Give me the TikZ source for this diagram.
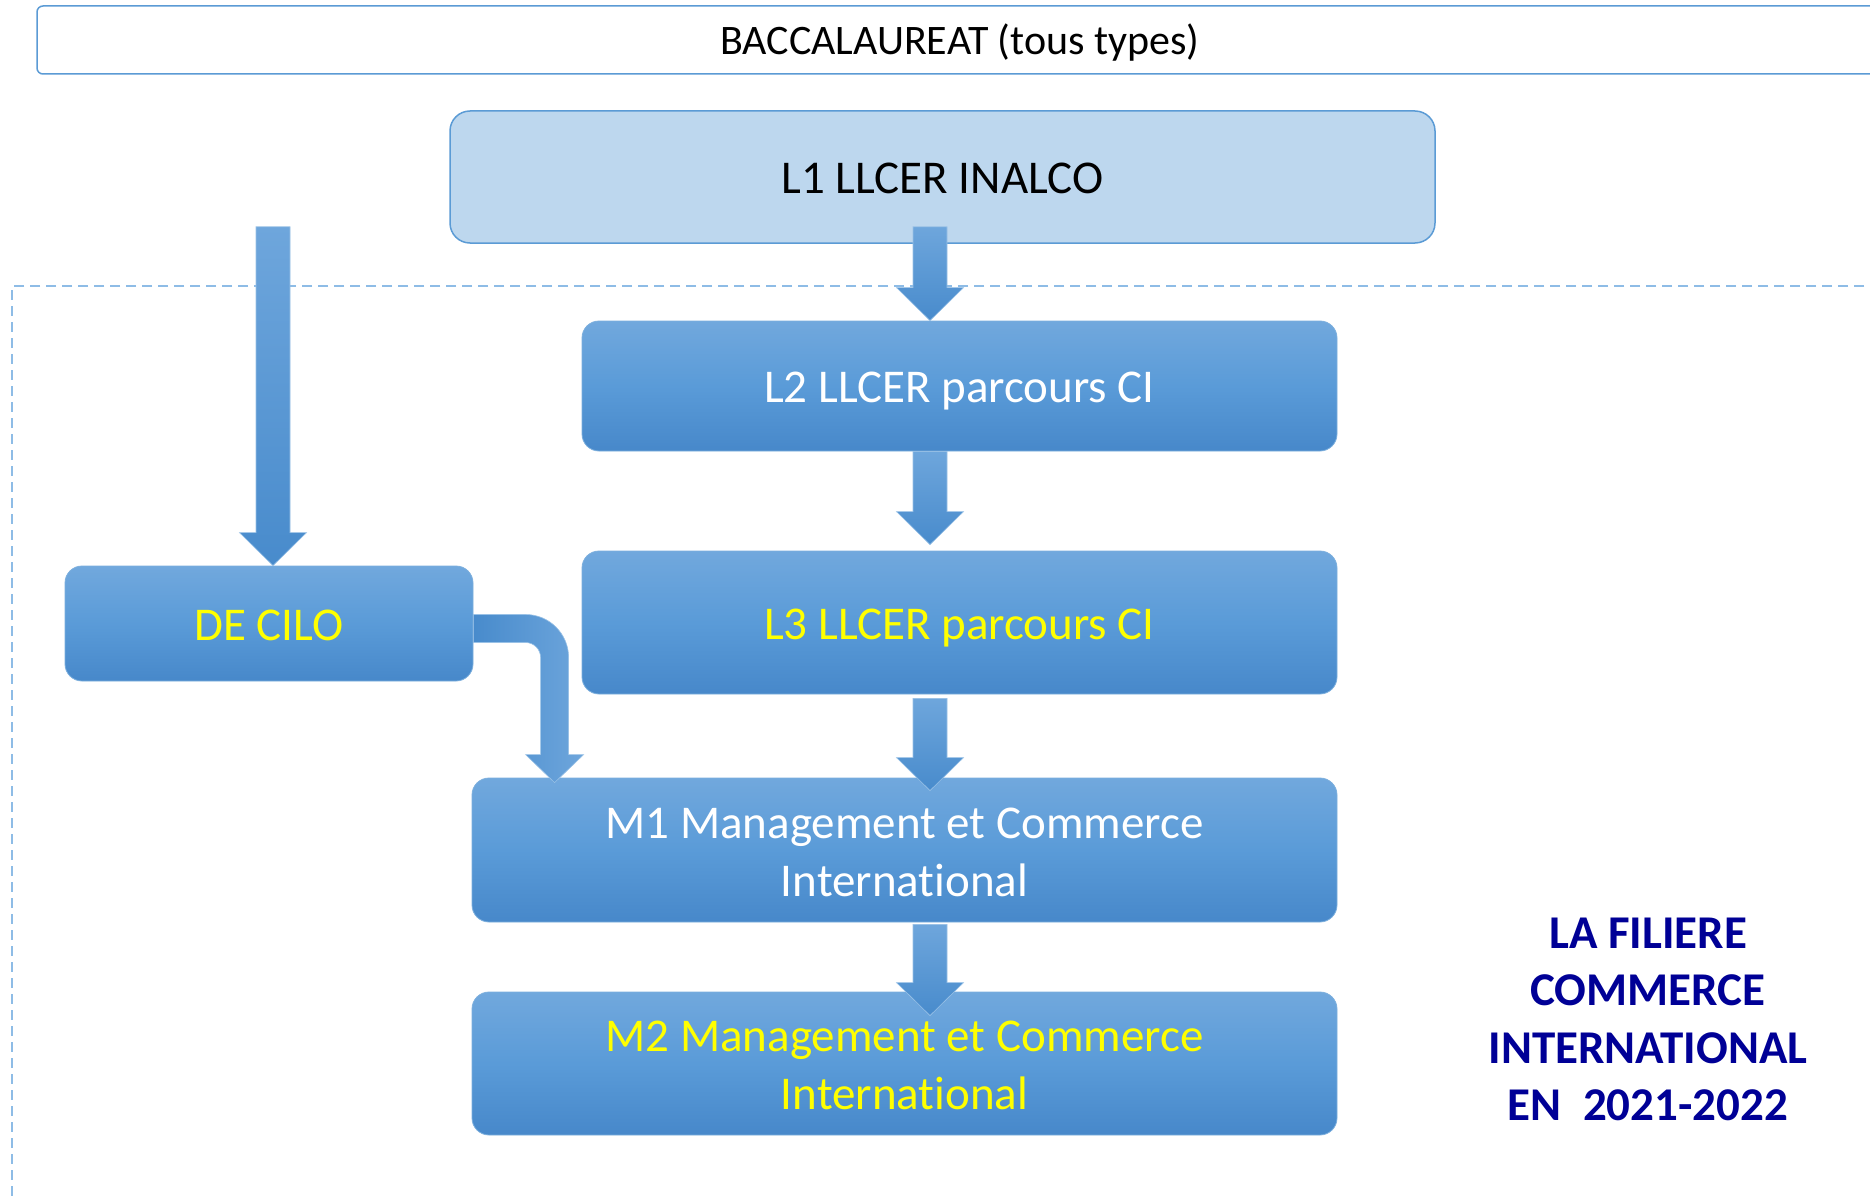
\documentclass[tikz,border=0pt]{standalone}
\usepackage{fontspec}
\setmainfont{Carlito}[Ligatures={NoCommon}]
\usetikzlibrary{calc}
\definecolor{acc}{HTML}{5B9BD5}
\definecolor{accl}{HTML}{BDD7EE}
\definecolor{boxtop}{HTML}{71A8DD}
\definecolor{boxmid}{HTML}{5A9BD8}
\definecolor{boxbot}{HTML}{4788CA}
\definecolor{arrtop}{HTML}{6EA6DC}
\definecolor{arrbot}{HTML}{488BCC}
\definecolor{dashc}{HTML}{8EBCE6}
\definecolor{navy}{HTML}{000096}
\definecolor{yel}{HTML}{FFFF00}
\tikzset{
  bluebox/.style={rounded corners=17pt, top color=boxtop, bottom color=boxbot, middle color=boxmid,
    draw=acc!80, line width=0.8pt, inner sep=0pt, align=center,
    font=\fontsize{47}{58}\selectfont},
  oneline/.style={text height=33pt, text depth=0pt},
  arrowshade/.style={top color=arrtop, bottom color=arrbot, draw=arrtop!70!white, line width=0.6pt},
  bentshade/.style={left color=arrbot, right color=arrtop, draw=arrtop!70!white, line width=0.6pt},
  dashline/.style={draw=dashc, line width=2pt, dash pattern=on 10pt off 6pt},
}
% vertical block arrow: start, tip, half shaft width, half head width, head length
\newcommand\vblock[5]{%
  \path[arrowshade] let \p1=(#1), \p2=(#2) in
   (\x1-#3,\y1) -- (\x1+#3,\y1) -- (\x1+#3,\y2+#5) -- (\x1+#4,\y2+#5) -- (\x2,\y2)
   -- (\x1-#4,\y2+#5) -- (\x1-#3,\y2+#5) -- cycle;}
\newcommand\topstrut{\rule{0pt}{45pt}}
\newcommand\botstrut{\rule[-11pt]{0pt}{11pt}}
\begin{document}
\begin{tikzpicture}[x=1pt,y=-1pt]
\useasboundingbox[fill=white] (0,0) rectangle (1870,1201);
% dashed frame
\draw[dashline] (1880,286) -- (12,286) -- (12,1215);
% top box
\node[draw=acc, line width=1.5pt, rounded corners=6pt, minimum width=1846pt, minimum height=68pt, inner sep=0pt,
  text height=30pt, text depth=0pt, font=\fontsize{42}{50}\selectfont] (bac) at (960,40) {BACCALAUREAT (tous types)};
\node[fill=accl, draw=acc, line width=1.5pt, rounded corners=20pt, minimum width=985pt, minimum height=132pt,
  inner sep=0pt, oneline, font=\fontsize{47}{57}\selectfont] (l1) at (942.5,177) {L1 LLCER INALCO};
\node[bluebox, oneline, text=white, minimum width=755pt, minimum height=130pt] (l2) at (959.5,386) {L2 LLCER parcours CI};
\node[bluebox, oneline, text=yel, minimum width=755pt, minimum height=143pt] (l3) at (959.5,622.5) {L3 LLCER parcours CI};
\node[bluebox, oneline, text=yel, minimum width=408pt, minimum height=115pt] (decilo) at (269,623.5) {DE CILO};
\node[bluebox, text=white, minimum width=865pt, minimum height=144pt] (m1) at (904.5,850) {\topstrut M1 Management et Commerce\\International\botstrut};
\node[bluebox, text=yel, minimum width=865pt, minimum height=143pt] (m2) at (904.5,1063.5) {\topstrut M2 Management et Commerce\\International\botstrut};
\node[text=navy, align=center, font=\bfseries\fontsize{47}{57.5}\selectfont] (title) at (1648,1019.5) {LA FILIERE\\COMMERCE\\INTERNATIONAL\\EN\ \ 2021-2022};
% arrows
\coordinate (col) at (930,0);
\vblock{[yshift=17pt]col |- l1.south}{col |- l2.north}{17pt}{33.5pt}{33pt}
\vblock{col |- l2.south}{[yshift=6pt]col |- l3.north}{17pt}{33.5pt}{33pt}
\vblock{[yshift=-4pt]col |- l3.south}{[yshift=-13pt]col |- m1.north}{17pt}{33.5pt}{33pt}
\vblock{[yshift=-2pt]col |- m1.south}{[yshift=-24pt]col |- m2.north}{17pt}{33.5pt}{33pt}
\vblock{[xshift=4pt,yshift=17pt]decilo.north |- l1.south}{[xshift=4pt]decilo.north}{17pt}{33.5pt}{33pt}
% bent arrow DE CILO -> M1
\path[bentshade] let \p1=([yshift=-5pt]decilo.east), \p2=([xshift=83pt,yshift=-5pt]m1.north west) in
  (\x1,\y1+14pt) -- (\x2-29pt,\y1+14pt) arc[start angle=90,end angle=0,radius=43pt]
  -- (\x2+14pt,\y2+28pt) -- (\x2+29pt,\y2+28pt) -- (\x2,\y2) -- (\x2-29pt,\y2+28pt)
  -- (\x2-14pt,\y2+28pt) -- (\x2-14pt,\y1-29pt) arc[start angle=0,end angle=90,radius=15pt]
  -- (\x1,\y1-14pt) -- cycle;
\end{tikzpicture}
\end{document}
